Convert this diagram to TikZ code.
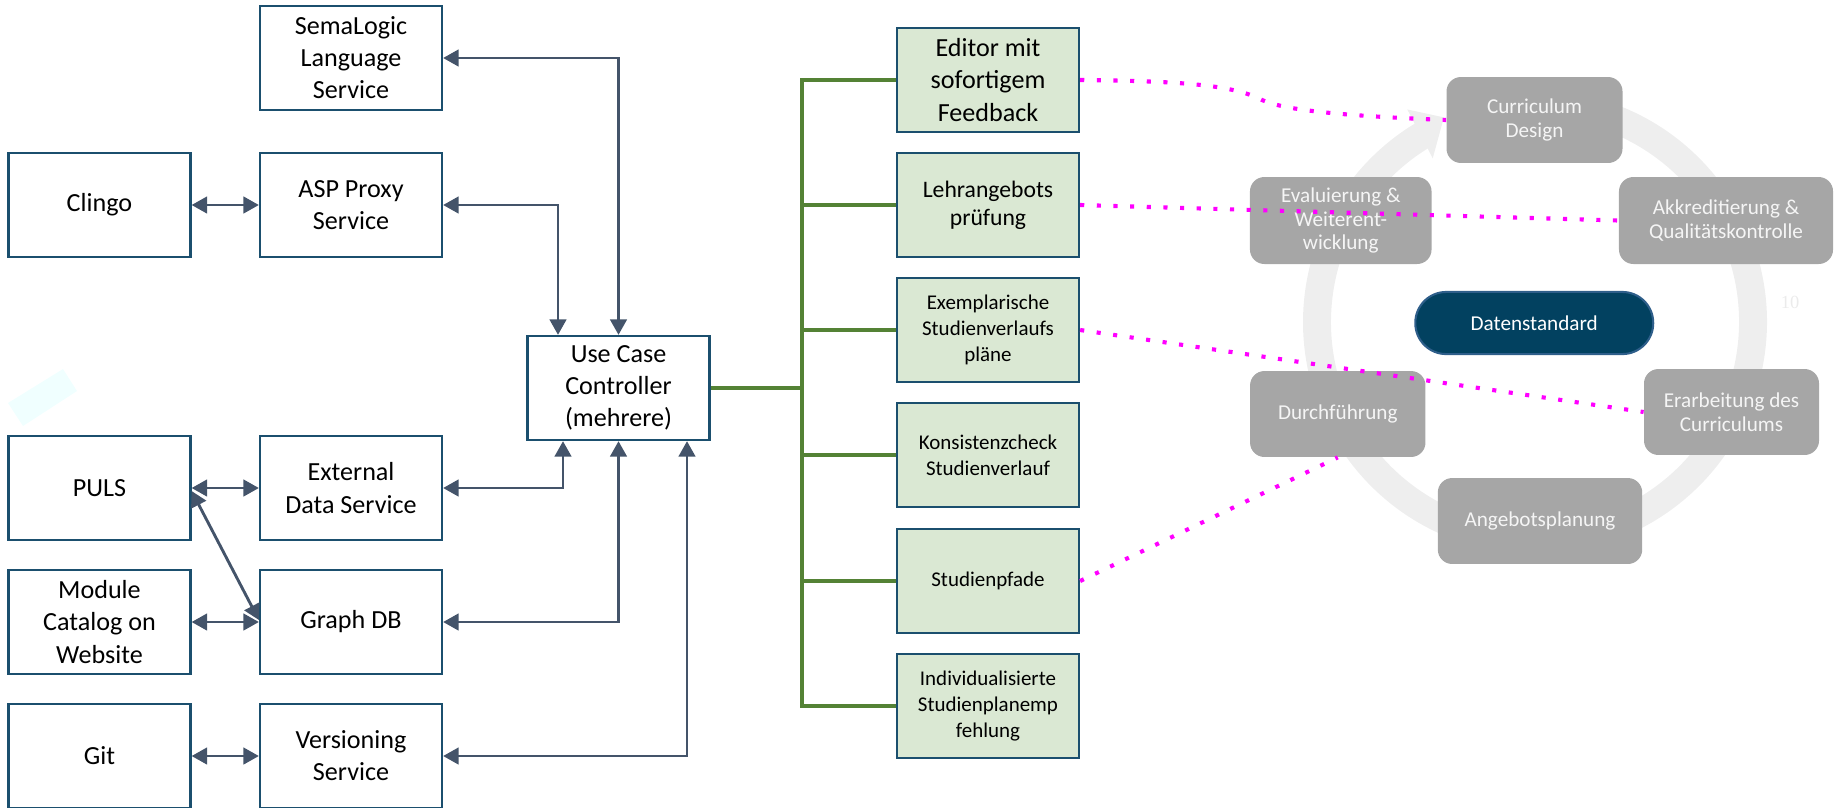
\documentclass[tikz,border=0pt]{standalone}
\usepackage{fontspec}
\setmainfont{Carlito}
\newfontfamily\serfont{Liberation Serif}
\usetikzlibrary{arrows.meta,calc}
\definecolor{bx}{HTML}{1B4F6E}
\definecolor{ar}{HTML}{44546A}
\definecolor{gf}{HTML}{DAE8D3}
\definecolor{glc}{HTML}{548235}
\definecolor{gy}{HTML}{A6A6A6}
\definecolor{ds}{HTML}{024160}
\definecolor{dsb}{HTML}{2E5E8A}
\definecolor{rg}{HTML}{EEEEEE}
\definecolor{mg}{HTML}{FF00FF}
\definecolor{cy}{HTML}{F0FFFF}
\begin{document}
\begin{tikzpicture}[x=0.4863pt,y=-0.4863pt,
  >={Triangle[length=7.5pt,width=8pt]},
  svc/.style={draw=bx, line width=1.1pt, fill=white, minimum width=88.5pt, minimum height=50.6pt, align=center, inner sep=1pt, font=\fontsize{12.7pt}{15.6pt}\selectfont},
  grn/.style={svc, fill=gf},
  gsmall/.style={font=\fontsize{10.2pt}{12.5pt}\selectfont},
  gbox/.style={fill=gy, rounded corners=7pt, text=white!96!black, align=center, font=\fontsize{10.3pt}{11.6pt}\selectfont, minimum height=41.8pt, inner sep=1pt},
  arr/.style={draw=ar, line width=1.4pt, <->},
  grline/.style={draw=glc, line width=2pt, line join=miter},
  pinkdot/.style={draw=mg, line width=2pt, dash pattern=on 2pt off 6.1pt},
  ringline/.style={draw=rg, line width=13.6pt}
]
\useasboundingbox (0,0) rectangle (1835,807);

% faint cyan shape
\fill[cy] (8,403) -- (63,369) -- (77,391) -- (23,426) -- cycle;

% left column
\node[svc] (clingo) at (99.5,205) {Clingo};
\node[svc] (puls) at (99.5,488) {PULS};
\node[svc] (modc) at (99.5,622) {Module\\Catalog on\\Website};
\node[svc] (git) at (99.5,756) {Git};
% second column
\node[svc] (sema) at (351,58) {SemaLogic\\Language\\Service};
\node[svc] (asp) at (351,205) {ASP Proxy\\Service};
\node[svc] (ext) at (351,488) {External\\Data Service};
\node[svc] (graph) at (351,622) {Graph DB};
\node[svc] (vers) at (351,756) {Versioning\\Service};
% controller
\node[svc] (uc) at (618.5,388) {Use Case\\Controller\\(mehrere)};

% arrows left
\draw[arr] (clingo.east) -- (asp.west);
\draw[arr] (puls.east) -- (ext.west);
\draw[arr] (modc.east) -- (graph.west);
\draw[arr] (git.east) -- (vers.west);
\draw[arr] ($(puls.east)+(0,3)$) -- ($(graph.west)+(0,-2)$);
\draw[arr] (sema.east) -| (uc.north);
\draw[arr] (asp.east) -| ($(uc.north)+(-60.5,0)$);
\draw[arr] (ext.east) -| ($(uc.south)+(-55.5,0)$);
\draw[arr] (graph.east) -| (uc.south);
\draw[arr] (vers.east) -| ($(uc.south)+(68.5,0)$);

% green use cases
\node[grn] (g1) at (988,80) {Editor mit\\sofortigem\\Feedback};
\node[grn, font=\fontsize{11.5pt}{13.8pt}\selectfont] (g2) at (988,205) {Lehrangebots\\prüfung};
\node[grn, gsmall] (g3) at (988,330) {Exemplarische\\Studienverlaufs\\pläne};
\node[grn, gsmall] (g4) at (988,455) {Konsistenzcheck\\Studienverlauf};
\node[grn, gsmall] (g5) at (988,581) {Studienpfade};
\node[grn, gsmall] (g6) at (988,706) {Individualisierte\\Studienplanemp\\fehlung};

\draw[grline] (g1.west) -- ++(-93.5,0) |- (g6.west);
\draw[grline] (g2.west) -- ++(-93.5,0);
\draw[grline] (g3.west) -- ++(-93.5,0);
\draw[grline] (g4.west) -- ++(-93.5,0);
\draw[grline] (g5.west) -- ++(-93.5,0);
\draw[grline] (uc.east) -- ++(93.5,0);

% cycle ring
\coordinate (ringc) at (1535,322);
\draw[ringline] ($(ringc)+(-82:218)$) arc[start angle=-82, end angle=239, radius=218];
\fill[rg] ($(ringc)+(-121:248)$) -- ($(ringc)+(-114:224)$) -- ($(ringc)+(-122:193)$) -- cycle;

\node[gbox, minimum width=85.6pt] (cd) at (1534.5,120) {Curriculum\\Design};
\node[gbox, minimum width=88.3pt, minimum height=42.3pt] (ev) at (1340.75,220.5) {Evaluierung \&\\Weiterent-\\wicklung};
\node[gbox, minimum width=104.1pt, minimum height=42.3pt] (akk) at (1726,220.5) {Akkreditierung \&\\Qualitätskontrolle};
\node[gbox, minimum width=85.3pt] (dur) at (1337.75,414) {Durchführung};
\node[gbox, minimum width=85.1pt] (erb) at (1731.5,412) {Erarbeitung des\\Curriculums};
\node[gbox, minimum width=99.4pt] (ang) at (1540,521) {Angebotsplanung};
\node[fill=ds, draw=dsb, line width=1pt, rounded corners=15pt, minimum width=115.7pt, minimum height=30.2pt, text=white, font=\fontsize{10.3pt}{12pt}\selectfont] (dat) at (1534.25,323) {Datenstandard};
\node[text=black!8, font=\serfont\fontsize{9pt}{10pt}\selectfont] (ten) at (1790,302) {10};

% magenta dotted links
\draw[pinkdot] (g1.east) .. controls (1190,81) and (1235,86) .. (1262,100) .. controls (1280,108) and (1320,115) .. (cd.west);
\draw[pinkdot] (g2.east) -- (akk.west);
\draw[pinkdot] (g3.east) -- (erb.west);
\draw[pinkdot] (g5.east) -- (dur.south);
\end{tikzpicture}
\end{document}
